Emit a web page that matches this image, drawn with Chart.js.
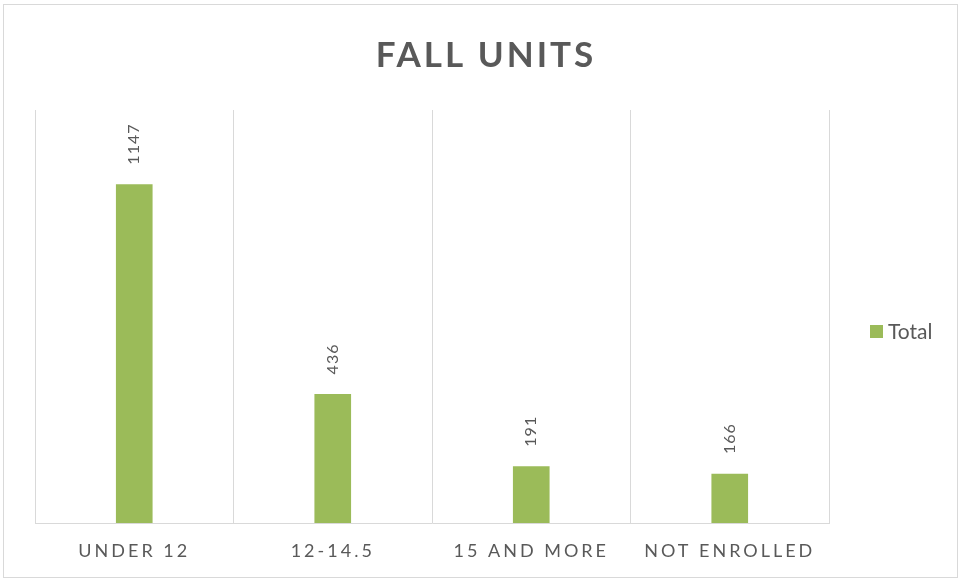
<!DOCTYPE html>
<html>
<head>
<meta charset="utf-8">
<script src="https://cdn.jsdelivr.net/npm/chart.js@4.4.1/dist/chart.umd.min.js"></script>
<style>
  html, body { margin: 0; padding: 0; background: #ffffff; }
  #wrap { width: 960px; height: 580px; position: relative; }
</style>
</head>
<body>
<div id="wrap"><canvas id="c" width="960" height="580"></canvas></div>
<script>
const chartTitle = 'FALL UNITS';
const categories = ['UNDER 12', '12-14.5', '15 AND MORE', 'NOT ENROLLED'];
const seriesName = 'Total';
const totals = [1147, 436, 191, 166];
const yMax = 1400;

const GREEN = '#9BBB59';
const TEXT = '#595959';
const GRID = '#D9D9D9';
const FONT = 'Lato, "Open Sans", sans-serif';

const decorPlugin = {
  id: 'decor',
  beforeDraw(chart) {
    const ctx = chart.ctx;
    ctx.save();
    ctx.fillStyle = '#ffffff';
    ctx.fillRect(0, 0, chart.width, chart.height);
    ctx.strokeStyle = GRID;
    ctx.lineWidth = 1;
    ctx.strokeRect(3.5, 4.5, 954, 573);
    ctx.restore();
    // letter-spaced x tick labels
    const s = chart.scales.x;
    if (s && !s.__ls) {
      const orig = s.drawLabels.bind(s);
      s.drawLabels = function (area) {
        this.ctx.save();
        this.ctx.letterSpacing = '3px';
        orig(area);
        this.ctx.restore();
      };
      s.__ls = true;
    }
  },
  afterDraw(chart) {
    const ctx = chart.ctx;
    // Title
    ctx.save();
    ctx.font = 'bold 35px ' + FONT;
    ctx.letterSpacing = '3px';
    ctx.fillStyle = TEXT;
    ctx.textAlign = 'center';
    ctx.textBaseline = 'alphabetic';
    ctx.fillText(chartTitle, 486, 67);
    ctx.restore();

    // Data labels (rotated)
    const meta = chart.getDatasetMeta(0);
    const ds = chart.data.datasets[0];
    ctx.save();
    ctx.font = '16px ' + FONT;
    ctx.letterSpacing = '1px';
    ctx.fillStyle = TEXT;
    meta.data.forEach((bar, i) => {
      const p = bar.getProps(['x', 'y'], true);
      ctx.save();
      ctx.translate(p.x, p.y - 20);
      ctx.rotate(-Math.PI / 2);
      ctx.textAlign = 'left';
      ctx.textBaseline = 'middle';
      ctx.fillText(String(ds.data[i]), 0, 0);
      ctx.restore();
    });
    ctx.restore();

    // Legend
    ctx.save();
    ctx.fillStyle = ds.backgroundColor;
    ctx.fillRect(870, 325, 13, 13);
    ctx.font = '21px ' + FONT;
    ctx.fillStyle = TEXT;
    ctx.textAlign = 'left';
    ctx.textBaseline = 'middle';
    ctx.fillText(ds.label, 888, 332);
    ctx.restore();
  }
};

new Chart(document.getElementById('c'), {
  type: 'bar',
  data: {
    labels: categories,
    datasets: [{
      label: seriesName,
      data: totals,
      backgroundColor: GREEN,
      borderWidth: 0,
      barThickness: 36
    }]
  },
  options: {
    responsive: false,
    animation: false,
    devicePixelRatio: 1,
    layout: { padding: { left: 35, right: 131, top: 110, bottom: 0 } },
    plugins: {
      legend: { display: false },
      title: { display: false },
      tooltip: { enabled: false }
    },
    scales: {
      x: {
        offset: true,
        grid: { display: true, offset: true, color: GRID, lineWidth: 1, drawTicks: false },
        border: { display: true, color: GRID, width: 1 },
        ticks: { color: TEXT, font: { family: FONT, size: 18 }, padding: 17, maxRotation: 0 },
        afterFit(s) { s.height = 57; }
      },
      y: {
        display: false,
        min: 0,
        max: yMax,
        grid: { display: false }
      }
    }
  },
  plugins: [decorPlugin]
});
</script>
</body>
</html>
